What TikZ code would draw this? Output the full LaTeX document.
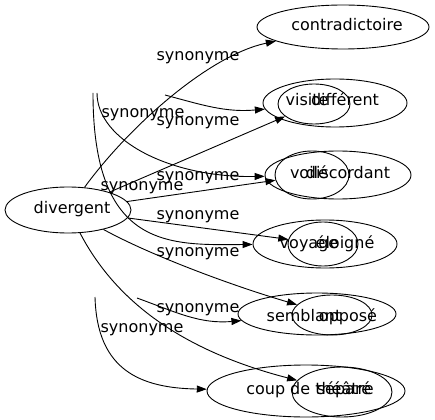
\documentclass[tikz,border=0pt]{standalone}
\usepackage{fontspec}
\setmainfont{DejaVu Sans}
\usetikzlibrary{shapes.geometric,arrows.meta}

\begin{document}
\begin{tikzpicture}[x=1pt, y=-1pt,
	word/.style={draw, ellipse, inner sep=0pt, line width=0.9pt},
	txt/.style={font=\fontsize{16}{19}\selectfont, inner sep=0pt, text height=11.5pt, text depth=3.5pt},
	edge/.style={line width=0.9pt, -{Triangle[length=10pt, width=7pt]}}]
	\useasboundingbox (0,0) rectangle (435,419);

	% the word and its synonyms
	\node[word, minimum width=126pt, minimum height=46pt, label={[txt, xshift=4pt]center:divergent}] (divergent) at (68,210) {};
	\node[word, minimum width=172pt, minimum height=44pt, label={[txt, xshift=4pt]center:contradictoire}] (contradictoire) at (343,27) {};
	\node[word, minimum width=72pt, minimum height=40pt, label={[txt, xshift=31pt, yshift=2pt]center:différent}] (different) at (314,104) {};
	\node[word, minimum width=74pt, minimum height=48pt, label={[txt, xshift=36pt]center:discordant}] (discordant) at (312,175) {};
	\node[word, minimum width=70pt, minimum height=44pt, label={[txt, xshift=22pt]center:éloigné}] (eloigne) at (323,244) {};
	\node[word, minimum width=80pt, minimum height=40pt, label={[txt, xshift=16pt, yshift=-2pt]center:opposé}] (oppose) at (332,315) {};
	\node[word, minimum width=100pt, minimum height=50pt, label={[txt, xshift=2pt, yshift=2pt]center:séparé}] (separe) at (342,392) {};

	% second layer
	\node[word, minimum width=144pt, minimum height=48pt, label={[txt, xshift=-28pt, yshift=1pt]center:visite}] (visite) at (335,103) {};
	\node[word, minimum width=146pt, minimum height=48pt, label={[txt, xshift=-29pt]center:voilé}] (voile) at (338,175) {};
	\node[word, minimum width=144pt, minimum height=48pt, label={[txt, xshift=-16pt]center:voyage}] (voyage) at (325,244) {};
	\node[word, minimum width=158pt, minimum height=42pt, label={[txt, xshift=-13pt, yshift=-3pt]center:semblant}] (semblant) at (317,314) {};
	\node[word, minimum width=198pt, minimum height=52pt, label={[txt, xshift=4pt, yshift=1pt]center:coup de théâtre}] (coup) at (306,391) {};

	\coordinate (visiteA) at (165,95);
	\coordinate (voileA) at (97,93);
	\coordinate (voyageA) at (93,93);
	\coordinate (semblantA) at (137,298);
	\coordinate (coupA) at (95,297);

	% edges
	\draw[edge] (divergent) .. controls (130,125) and (210,55) .. (contradictoire);
	\draw[edge] (divergent) -- (different);
	\draw[edge] (divergent) -- (discordant);
	\draw[edge] (divergent) -- (eloigne);
	\draw[edge] (divergent) .. controls (150,255) and (230,285) .. (oppose);
	\draw[edge] (divergent) .. controls (115,300) and (180,350) .. (separe);

	\draw[edge] (visiteA) to[out=-15, in=185] (visite);
	\draw[edge] (voileA) .. controls (97,140) and (170,178) .. (voile);
	\draw[edge] (voyageA) .. controls (93,250) and (170,245) .. (voyage);
	\draw[edge] (semblantA) to[out=-20, in=185] (semblant);
	\draw[edge] (coupA) .. controls (97,370) and (140,388) .. (coup);

	% edge labels
	\node[txt] (syn1) at (198,57) {synonyme};
	\node[txt] (syn2) at (143,114) {synonyme};
	\node[txt] (syn3) at (198,122) {synonyme};
	\node[txt] (syn4) at (198,177) {synonyme};
	\node[txt] (syn5) at (142,187) {synonyme};
	\node[txt] (syn6) at (198,215) {synonyme};
	\node[txt] (syn7) at (198,252) {synonyme};
	\node[txt] (syn8) at (198,308) {synonyme};
	\node[txt] (syn9) at (142,328) {synonyme};
\end{tikzpicture}
\end{document}
